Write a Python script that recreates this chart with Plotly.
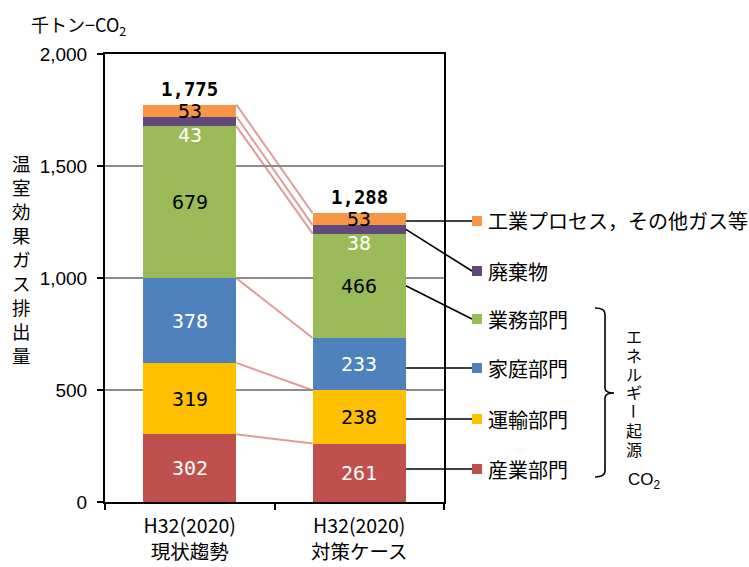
import plotly.graph_objects as go

# ---------------- data ----------------
categories = ["H32(2020)<br>現状趨勢", "H32(2020)<br>対策ケース"]
series_names = ["産業部門", "運輸部門", "家庭部門", "業務部門", "廃棄物", "工業プロセス，その他ガス等"]
sangyo = [302, 261]
unyu = [319, 238]
katei = [378, 233]
gyomu = [679, 466]
haiki = [43, 38]
kogyo = [53, 53]
totals = [1775, 1288]
y_ticks = [0, 500, 1000, 1500, 2000]

series_values = [sangyo, unyu, katei, gyomu, haiki, kogyo]
colors = ["#C0504D", "#FFC000", "#4F81BD", "#9BBB59", "#604A7B", "#F79646"]
label_colors = ["white", "black", "white", "black", "white", "black"]

# ---------------- geometry helpers ----------------
W, H = 749, 567
PL, PR, PT, PB = 105, 444, 54, 502          # plot area in pixels
X_RANGE = [-0.5, 1.5]
Y_RANGE = [0, 2000]
BAR_W = 0.55


def px2x(px):
    return (px - PL) / (PR - PL)


def px2y(py):
    return (PB - py) / (PB - PT)


def dx2p(v):
    return (v - X_RANGE[0]) / (X_RANGE[1] - X_RANGE[0])


def dy2p(v):
    return (v - Y_RANGE[0]) / (Y_RANGE[1] - Y_RANGE[0])


JP = "Noto Sans CJK JP"
MONO = "DejaVu Sans Mono"

fig = go.Figure()
for name, vals, col in zip(series_names, series_values, colors):
    fig.add_trace(go.Bar(
        x=categories, y=vals, name=name, width=BAR_W,
        marker=dict(color=col, line=dict(width=0)),
        showlegend=False, hoverinfo="skip",
    ))

# cumulative tops
cum = []
run = [0, 0]
for vals in series_values:
    run = [run[i] + vals[i] for i in range(2)]
    cum.append(list(run))

annotations = []
shapes = []

# segment labels
for si, (vals, lc) in enumerate(zip(series_values, label_colors)):
    for ci in range(2):
        bottom = cum[si][ci] - vals[ci]
        if si == 4:  # thin waste segment: label just below it
            annotations.append(dict(
                x=categories[ci], y=bottom, xref="x", yref="y", text=str(vals[ci]),
                showarrow=False, yanchor="middle", yshift=-9,
                font=dict(family=MONO, size=20, color=lc)))
        else:
            annotations.append(dict(
                x=categories[ci], y=bottom + vals[ci] / 2, xref="x", yref="y",
                text=str(vals[ci]), showarrow=False, yanchor="middle",
                font=dict(family=MONO, size=20, color=lc)))

# totals
for ci in range(2):
    annotations.append(dict(
        x=categories[ci], y=cum[-1][ci], xref="x", yref="y",
        text="<b>{:,}</b>".format(totals[ci]), showarrow=False,
        yanchor="bottom", yshift=3,
        font=dict(family=MONO, size=19, color="black")))

# series lines between bars
for si in range(len(series_values)):
    shapes.append(dict(
        type="line", xref="x", yref="y", layer="below",
        x0=0 + BAR_W / 2, x1=1 - BAR_W / 2, y0=cum[si][0], y1=cum[si][1],
        line=dict(color="#E09C9A", width=2)))

# manual legend (top to bottom)
legend_py = [469, 419, 368, 319, 271, 221]   # pixel centre of each legend item
mk = 5
for si in range(len(series_names)):
    py = legend_py[si]
    shapes.append(dict(
        type="rect", xref="paper", yref="paper",
        x0=px2x(472), x1=px2x(482), y0=px2y(py + mk), y1=px2y(py - mk),
        fillcolor=colors[si], line=dict(width=0)))
    annotations.append(dict(
        x=px2x(486), y=px2y(py), xref="paper", yref="paper",
        text=series_names[si], showarrow=False, xanchor="left", yanchor="middle",
        font=dict(family=JP, size=20, color="black")))
    # leader line from right bar edge
    mid = cum[si][1] - series_values[si][1] / 2
    if si in (3, 4):
        y_start = dy2p(mid)
    else:
        y_start = px2y(py)
    shapes.append(dict(
        type="line", xref="paper", yref="paper", layer="above",
        x0=dx2p(1 + BAR_W / 2), y0=y_start, x1=px2x(472), y1=px2y(py),
        line=dict(color="black", width=1.6)))

# bracket for energy-origin CO2
bx, btop, bbot, bmid = 605, 308, 477, 393
path = (f"M {px2x(bx - 10)},{px2y(btop)} "
        f"Q {px2x(bx)},{px2y(btop)} {px2x(bx)},{px2y(btop + 6)} "
        f"L {px2x(bx)},{px2y(bmid - 5)} "
        f"Q {px2x(bx)},{px2y(bmid)} {px2x(bx + 9)},{px2y(bmid)} "
        f"Q {px2x(bx)},{px2y(bmid)} {px2x(bx)},{px2y(bmid + 5)} "
        f"L {px2x(bx)},{px2y(bbot - 6)} "
        f"Q {px2x(bx)},{px2y(bbot)} {px2x(bx - 10)},{px2y(bbot)}")
shapes.append(dict(type="path", xref="paper", yref="paper", path=path,
                   line=dict(color="black", width=1.6)))

# vertical "エネルギー起源", one glyph per box (long-vowel mark rotated)
vert_text = "エネルギー起源"
v_top, v_step = 336, 18.8
for i, ch in enumerate(vert_text):
    annotations.append(dict(
        x=px2x(634), y=px2y(v_top + i * v_step), xref="paper", yref="paper",
        text=ch, showarrow=False, xanchor="center", yanchor="middle",
        textangle=90 if ch == "ー" else 0, borderpad=0, height=18,
        font=dict(family=JP, size=16, color="black")))
annotations.append(dict(
    x=px2x(644), y=px2y(481), xref="paper", yref="paper",
    text="CO<sub>2</sub>", showarrow=False, xanchor="center", yanchor="middle",
    borderpad=0,
    font=dict(family="Liberation Sans", size=17, color="black")))

# y-axis title (vertical stacked)
annotations.append(dict(
    x=px2x(21), y=px2y(259), xref="paper", yref="paper",
    text="<br>".join("温室効果ガス排出量"), showarrow=False,
    xanchor="center", yanchor="middle",
    font=dict(family=JP, size=18.5, color="black")))

# unit label
annotations.append(dict(
    x=px2x(29), y=px2y(25), xref="paper", yref="paper",
    text="千トン−CO<sub>2</sub>", showarrow=False, xanchor="left", yanchor="middle",
    font=dict(family=JP, size=18, color="black")))

fig.update_layout(
    barmode="stack",
    width=W, height=H,
    margin=dict(l=PL, r=W - PR, t=PT, b=H - PB, pad=0, autoexpand=False),
    paper_bgcolor="white", plot_bgcolor="white",
    annotations=annotations, shapes=shapes,
    showlegend=False,
    xaxis=dict(
        type="category", range=X_RANGE, tickson="boundaries", automargin=False,
        ticks="outside", ticklen=6, tickwidth=1.5, tickcolor="black",
        showline=True, linecolor="black", linewidth=2, mirror=True,
        showgrid=False, ticklabelstandoff=6,
        tickfont=dict(family=JP, size=19.5, color="black"),
    ),
    yaxis=dict(
        range=Y_RANGE, tickvals=y_ticks, tickformat=",d", automargin=False,
        ticks="outside", ticklen=6, tickwidth=1.5, tickcolor="black",
        showline=True, linecolor="black", linewidth=2, mirror=True,
        showgrid=True, gridcolor="#8C8C8C", gridwidth=2, zeroline=False,
        ticklabelstandoff=6,
        tickfont=dict(family="Liberation Sans", size=19, color="black"),
    ),
)

fig.write_html("out.html")
